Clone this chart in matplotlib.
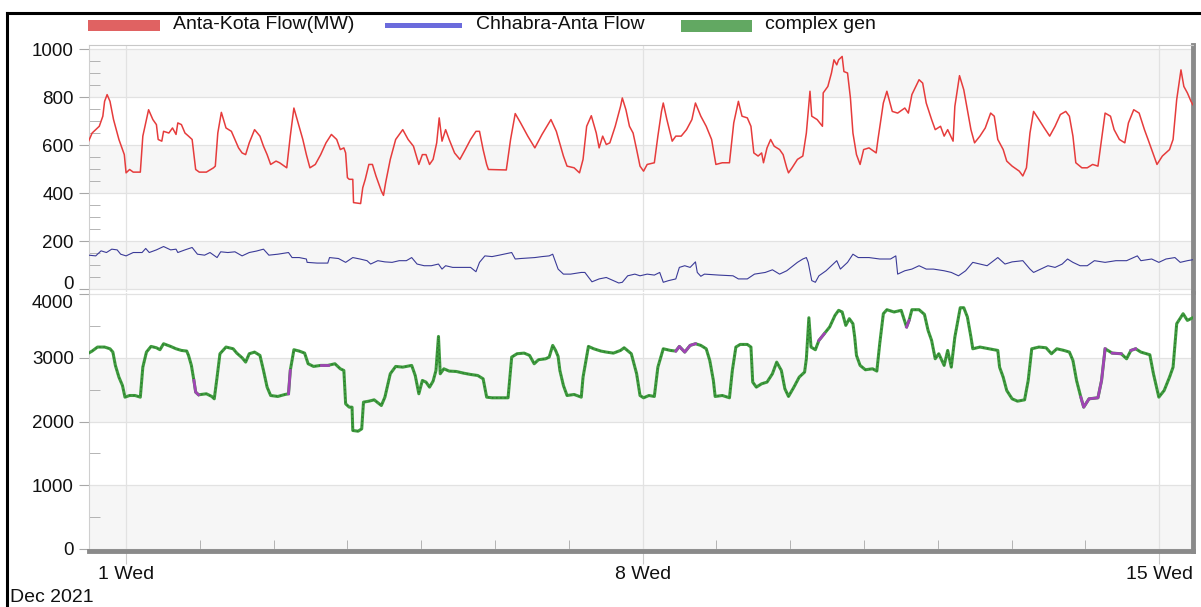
import numpy as np
import matplotlib
matplotlib.use('Agg')
import matplotlib.pyplot as plt
from matplotlib.lines import Line2D
from matplotlib.patches import Rectangle
from matplotlib.ticker import MultipleLocator, FixedLocator, FuncFormatter
from datetime import date

plt.rcParams['font.family'] = ['Liberation Sans', 'DejaVu Sans']

# x = day of month, Dec 2021 (fractional)
ak_day = [0.493, 0.541, 0.638, 0.686, 0.710, 0.744, 0.783, 0.831, 0.904, 0.977,
          1.001, 1.049, 1.098, 1.194, 1.228, 1.306, 1.364, 1.412, 1.436, 1.485,
          1.509, 1.581, 1.630, 1.678, 1.702, 1.751, 1.799, 1.847, 1.896, 1.944,
          1.993, 2.089, 2.186, 2.210, 2.244, 2.292, 2.355, 2.428, 2.476, 2.525,
          2.573, 2.621, 2.670, 2.742, 2.815, 2.863, 2.912, 2.960, 3.033, 3.081,
          3.178, 3.226, 3.275, 3.338, 3.396, 3.444, 3.492, 3.565, 3.638, 3.710,
          3.783, 3.855, 3.904, 3.952, 3.976, 4.000, 4.025, 4.073, 4.083, 4.179,
          4.208, 4.242, 4.291, 4.339, 4.387, 4.460, 4.489, 4.518, 4.581, 4.654,
          4.750, 4.823, 4.895, 4.968, 5.016, 5.065, 5.113, 5.161, 5.210, 5.244,
          5.282, 5.331, 5.379, 5.452, 5.524, 5.597, 5.669, 5.742, 5.790, 5.839,
          5.887, 5.911, 6.153, 6.211, 6.274, 6.347, 6.444, 6.540, 6.637, 6.758,
          6.831, 6.927, 6.976, 7.072, 7.145, 7.193, 7.242, 7.305, 7.372, 7.411,
          7.459, 7.508, 7.556, 7.629, 7.701, 7.725, 7.774, 7.822, 7.871, 7.919,
          7.965, 8.013, 8.062, 8.159, 8.207, 8.256, 8.280, 8.329, 8.401, 8.450,
          8.523, 8.595, 8.668, 8.716, 8.789, 8.862, 8.935, 8.993, 9.080, 9.177,
          9.235, 9.298, 9.347, 9.419, 9.468, 9.507, 9.565, 9.613, 9.638, 9.686,
          9.735, 9.783, 9.856, 9.904, 9.953, 9.977, 10.025, 10.098, 10.171, 10.219,
          10.268, 10.292, 10.365, 10.437, 10.447, 10.510, 10.559, 10.593, 10.631, 10.656,
          10.704, 10.728, 10.777, 10.816, 10.850, 10.898, 10.947, 10.995, 11.068, 11.165,
          11.189, 11.262, 11.310, 11.383, 11.456, 11.553, 11.601, 11.649, 11.746, 11.795,
          11.843, 11.916, 11.965, 12.037, 12.086, 12.134, 12.207, 12.231, 12.294, 12.352,
          12.401, 12.449, 12.498, 12.571, 12.643, 12.716, 12.765, 12.813, 12.886, 12.934,
          13.007, 13.104, 13.152, 13.201, 13.249, 13.298, 13.371, 13.443, 13.516, 13.589,
          13.661, 13.734, 13.783, 13.831, 13.870, 13.952, 14.025, 14.098, 14.170, 14.219,
          14.267, 14.340, 14.389, 14.461, 14.534, 14.583, 14.655, 14.728, 14.800, 14.849,
          14.922, 14.970, 15.043, 15.140, 15.188, 15.237, 15.295, 15.334, 15.382, 15.431,
          15.455]
ak_mw = [616, 650, 678, 720, 782, 810, 782, 706, 623, 560,
         484, 498, 487, 487, 637, 747, 706, 685, 623, 616,
         657, 650, 671, 644, 692, 685, 650, 637, 623, 498,
         487, 487, 505, 512, 650, 736, 671, 657, 623, 588,
         567, 560, 609, 664, 637, 595, 560, 519, 533, 526,
         505, 637, 754, 685, 623, 560, 505, 519, 560, 609,
         644, 623, 581, 588, 567, 464, 457, 457, 360, 356,
         422, 457, 519, 519, 471, 408, 390, 443, 540, 623,
         664, 623, 595, 519, 560, 560, 519, 540, 609, 713,
         616, 664, 623, 567, 540, 581, 623, 657, 657, 581,
         519, 498, 496, 623, 731, 692, 637, 588, 644, 706,
         657, 554, 512, 505, 484, 540, 678, 722, 650, 588,
         637, 602, 609, 678, 761, 796, 747, 678, 650, 581,
         512, 491, 519, 526, 637, 740, 775, 706, 616, 637,
         637, 664, 706, 775, 720, 678, 623, 519, 526, 526,
         692, 782, 720, 713, 678, 567, 554, 567, 526, 588,
         623, 595, 581, 560, 505, 484, 505, 540, 554, 650,
         824, 720, 706, 678, 817, 844, 900, 955, 934, 955,
         969, 906, 900, 796, 650, 560, 519, 581, 588, 567,
         623, 775, 824, 740, 733, 754, 733, 810, 872, 858,
         775, 706, 664, 678, 637, 664, 616, 761, 889, 830,
         747, 664, 609, 637, 671, 733, 720, 623, 581, 533,
         512, 491, 471, 505, 650, 740, 706, 671, 637, 678,
         727, 740, 720, 637, 526, 505, 505, 519, 512, 623,
         733, 720, 664, 623, 609, 692, 747, 733, 664, 623,
         560, 519, 554, 581, 623, 789, 913, 844, 817, 782,
         768]

ca_day = [0.493, 0.590, 0.662, 0.735, 0.807, 0.880, 0.928, 1.001, 1.098, 1.218,
          1.267, 1.315, 1.412, 1.509, 1.605, 1.678, 1.702, 1.799, 1.896, 1.968,
          2.065, 2.138, 2.234, 2.283, 2.380, 2.476, 2.573, 2.670, 2.767, 2.863,
          2.936, 3.057, 3.202, 3.250, 3.347, 3.444, 3.454, 3.589, 3.734, 3.758,
          3.879, 3.976, 4.073, 4.170, 4.266, 4.315, 4.412, 4.508, 4.605, 4.702,
          4.799, 4.871, 4.944, 5.040, 5.137, 5.234, 5.282, 5.331, 5.427, 5.573,
          5.669, 5.742, 5.790, 5.863, 5.960, 6.057, 6.226, 6.274, 6.347, 6.540,
          6.637, 6.734, 6.782, 6.855, 6.927, 7.024, 7.169, 7.218, 7.314, 7.411,
          7.508, 7.605, 7.677, 7.725, 7.798, 7.895, 7.965, 8.062, 8.159, 8.232,
          8.280, 8.353, 8.450, 8.498, 8.571, 8.644, 8.716, 8.741, 8.789, 8.838,
          9.032, 9.225, 9.298, 9.419, 9.516, 9.662, 9.759, 9.856, 9.953, 10.098,
          10.171, 10.219, 10.244, 10.292, 10.341, 10.389, 10.486, 10.583, 10.631, 10.680,
          10.777, 10.850, 10.922, 11.068, 11.213, 11.359, 11.431, 11.456, 11.553, 11.649,
          11.746, 11.843, 11.940, 12.086, 12.183, 12.280, 12.377, 12.474, 12.571, 12.668,
          12.813, 12.910, 13.007, 13.152, 13.249, 13.298, 13.395, 13.492, 13.589, 13.686,
          13.758, 13.831, 13.928, 14.025, 14.122, 14.267, 14.413, 14.558, 14.704, 14.752,
          14.898, 14.995, 15.092, 15.213, 15.285, 15.382, 15.455]
ca_mw = [141, 138, 159, 152, 166, 163, 145, 138, 152, 152,
         169, 152, 163, 177, 163, 166, 152, 163, 173, 145,
         141, 152, 131, 155, 152, 155, 138, 152, 158, 166,
         141, 145, 152, 131, 131, 125, 111, 108, 108, 131,
         127, 111, 131, 125, 118, 104, 118, 113, 111, 118,
         118, 131, 104, 97, 97, 104, 83, 97, 90, 90,
         90, 72, 111, 138, 135, 141, 152, 125, 127, 131,
         135, 138, 145, 83, 62, 62, 69, 69, 30, 42,
         48, 35, 25, 28, 55, 62, 55, 62, 58, 69,
         28, 35, 42, 90, 97, 90, 113, 69, 53, 62,
         58, 55, 42, 42, 62, 69, 80, 62, 76, 111,
         125, 131, 111, 35, 28, 55, 76, 104, 118, 83,
         111, 145, 131, 131, 125, 125, 138, 62, 76, 83,
         97, 83, 83, 76, 69, 55, 76, 111, 104, 97,
         131, 104, 113, 118, 83, 69, 83, 97, 90, 104,
         125, 111, 97, 97, 118, 111, 118, 118, 138, 118,
         125, 111, 125, 131, 111, 118, 122]

gen_day = [0.493, 0.541, 0.614, 0.710, 0.783, 0.822, 0.856, 0.904, 0.952, 0.986,
           1.049, 1.122, 1.194, 1.228, 1.277, 1.339, 1.412, 1.460, 1.509, 1.605,
           1.678, 1.751, 1.823, 1.847, 1.886, 1.920, 1.944, 1.983, 2.089, 2.162,
           2.196, 2.234, 2.273, 2.355, 2.452, 2.501, 2.573, 2.621, 2.670, 2.742,
           2.815, 2.863, 2.912, 2.960, 3.057, 3.154, 3.202, 3.226, 3.275, 3.347,
           3.420, 3.468, 3.541, 3.638, 3.734, 3.831, 3.904, 3.952, 3.976, 4.025,
           4.063, 4.073, 4.145, 4.194, 4.218, 4.291, 4.363, 4.460, 4.508, 4.581,
           4.654, 4.750, 4.871, 4.919, 4.968, 5.016, 5.065, 5.113, 5.161, 5.200,
           5.234, 5.258, 5.307, 5.379, 5.476, 5.573, 5.669, 5.766, 5.839, 5.887,
           5.960, 6.081, 6.177, 6.226, 6.298, 6.395, 6.468, 6.531, 6.589, 6.685,
           6.734, 6.782, 6.821, 6.855, 6.879, 6.927, 6.976, 7.072, 7.169, 7.193,
           7.266, 7.338, 7.435, 7.508, 7.605, 7.701, 7.750, 7.847, 7.919, 7.965,
           8.013, 8.086, 8.159, 8.207, 8.280, 8.377, 8.450, 8.498, 8.571, 8.644,
           8.716, 8.789, 8.862, 8.910, 8.959, 8.983, 9.080, 9.177, 9.216, 9.264,
           9.322, 9.419, 9.468, 9.492, 9.541, 9.613, 9.686, 9.759, 9.817, 9.880,
           9.928, 9.977, 10.050, 10.122, 10.195, 10.219, 10.253, 10.282, 10.341, 10.389,
           10.462, 10.534, 10.607, 10.656, 10.704, 10.753, 10.801, 10.850, 10.874, 10.898,
           10.947, 11.019, 11.116, 11.174, 11.213, 11.262, 11.310, 11.407, 11.504, 11.577,
           11.611, 11.649, 11.746, 11.819, 11.868, 11.916, 11.965, 12.013, 12.086, 12.134,
           12.183, 12.231, 12.304, 12.352, 12.401, 12.449, 12.474, 12.571, 12.692, 12.813,
           12.837, 12.886, 12.934, 13.007, 13.080, 13.176, 13.225, 13.273, 13.370, 13.467,
           13.540, 13.613, 13.710, 13.783, 13.831, 13.880, 13.938, 13.977, 14.049, 14.170,
           14.219, 14.267, 14.364, 14.485, 14.558, 14.617, 14.680, 14.752, 14.873, 14.922,
           14.995, 15.067, 15.140, 15.188, 15.237, 15.324, 15.382, 15.455]
gen_mw = [3073, 3105, 3168, 3168, 3141, 3089, 2880, 2696, 2565, 2382,
          2408, 2408, 2382, 2853, 3089, 3178, 3157, 3126, 3220, 3178,
          3141, 3115, 3105, 3037, 2880, 2644, 2461, 2419, 2435, 2393,
          2356, 2696, 3063, 3168, 3141, 3073, 3000, 2932, 3063, 3089,
          3037, 2801, 2539, 2408, 2393, 2424, 2435, 2801, 3126, 3105,
          3073, 2906, 2864, 2880, 2880, 2906, 2827, 2801, 2277, 2225,
          2225, 1859, 1848, 1885, 2304, 2319, 2340, 2251, 2382, 2749,
          2864, 2853, 2880, 2722, 2435, 2644, 2618, 2539, 2633, 2801,
          3335, 2749, 2827, 2791, 2785, 2759, 2738, 2722, 2670, 2382,
          2372, 2372, 2372, 3010, 3063, 3073, 3037, 2906, 2969, 2984,
          3010, 3194, 3115, 3021, 2801, 2565, 2408, 2424, 2382, 2696,
          3178, 3141, 3105, 3089, 3073, 3115, 3157, 3063, 2749, 2408,
          2372, 2408, 2393, 2853, 3141, 3115, 3105, 3178, 3089, 3194,
          3220, 3194, 3141, 2958, 2644, 2393, 2408, 2372, 2801, 3168,
          3209, 3209, 3168, 2618, 2539, 2592, 2618, 2749, 2932, 2801,
          2513, 2393, 2539, 2696, 2775, 2984, 3628, 3168, 3126, 3272,
          3377, 3482, 3665, 3744, 3718, 3508, 3613, 3534, 3325, 3037,
          2880, 2812, 2827, 2791, 3220, 3691, 3754, 3718, 3744, 3482,
          3586, 3754, 3754, 3681, 3430, 3272, 2984, 3063, 2880, 3115,
          2853, 3325, 3785, 3785, 3639, 3325, 3141, 3168, 3141, 3115,
          2853, 2696, 2487, 2356, 2319, 2340, 2644, 3141, 3168, 3157,
          3063, 3141, 3115, 3089, 2958, 2644, 2382, 2225, 2356, 2372,
          2644, 3141, 3073, 3063, 2984, 3115, 3141, 3089, 3047, 2749,
          2382, 2487, 2696, 2853, 3534, 3691, 3586, 3628]

# stretches where the purple trace shows on top of complex gen
purple_spans = [(1.90, 1.99), (3.19, 3.24), (3.60, 3.75), (8.43, 8.75),
                (10.38, 10.47), (11.55, 11.63), (13.90, 14.27), (14.33, 14.50),
                (14.60, 14.70)]

legend_names = ['Anta-Kota Flow(MW)', 'Chhabra-Anta Flow', 'complex gen']
legend_colors = ['#e06262', '#6b6bdc', '#62a862']

W, H = 1201, 607
fig = plt.figure(figsize=(W / 100, H / 100), dpi=100)


def px_axes(l, t, r, b):
    return fig.add_axes([l / W, 1 - b / H, (r - l) / W, (b - t) / H])


ax1 = px_axes(89, 45, 1193, 292)
ax2 = px_axes(89, 293, 1193, 551)

band = '#f6f6f6'
grid_c = '#e2e2e2'
tick_c = '#a8a8a8'

for lo, hi in [(800, 1000), (400, 600), (0, 200)]:
    ax1.axhspan(lo, hi, color=band, lw=0, zorder=0)
for lo, hi in [(2000, 3000), (0, 1000)]:
    ax2.axhspan(lo, hi, color=band, lw=0, zorder=0)

ax1.plot(ak_day, ak_mw, color='#e63c3c', lw=1.1, zorder=3)
ax1.plot(ca_day, ca_mw, color='#3b3b98', lw=0.8, zorder=3)

gd = np.array(gen_day)
gm = np.array(gen_mw)
ax2.plot(gd, gm, color='#3f9c3f', lw=2.2, zorder=3)
ax2.plot(gd, gm, color='#2c7a2c', lw=1.0, ls=(0, (1, 2)), zorder=3)
for s, e in purple_spans:
    m = (gd >= s) & (gd <= e)
    ax2.plot(gd[m], gm[m], color='#a044b4', lw=2.0, zorder=4)

ax1.set_ylim(-12.5, 1016.7)
ax2.set_ylim(-31.4, 4016)
ax1.yaxis.set_major_locator(FixedLocator([0, 200, 400, 600, 800, 1000]))
ax1.yaxis.set_minor_locator(MultipleLocator(50))
ax2.yaxis.set_major_locator(FixedLocator([0, 1000, 2000, 3000, 4000]))
ax2.yaxis.set_minor_locator(MultipleLocator(500))

# the two labels where the panels meet are nudged apart, as in the original
ax1.yaxis.set_major_formatter(FuncFormatter(lambda v, p: '' if v == 0 else '%d' % v))
ax2.yaxis.set_major_formatter(FuncFormatter(lambda v, p: '' if v == 4000 else '%d' % v))
ax1.annotate('0', xy=(0, 0), xycoords=('axes fraction', 'data'), xytext=(-11, 3),
             textcoords='offset points', ha='right', va='center', fontsize=13.5,
             color='#111111', annotation_clip=False)
ax2.annotate('4000', xy=(0, 4000), xycoords=('axes fraction', 'data'), xytext=(-11, -6.5),
             textcoords='offset points', ha='right', va='center', fontsize=13.5,
             color='#111111', annotation_clip=False)

x0, x1 = 0.4986, 15.458
major_days = [1, 8, 15]
labels = ['%d %s' % (d, date(2021, 12, d).strftime('%a')) for d in major_days]
for ax in (ax1, ax2):
    ax.set_xlim(x0, x1)
    ax.xaxis.set_major_locator(FixedLocator(major_days))
    ax.xaxis.set_minor_locator(MultipleLocator(1))
    ax.grid(True, which='major', color=grid_c, lw=0.9, zorder=1)
    ax.set_axisbelow(True)
    ax.tick_params(axis='y', which='major', direction='out', length=7,
                   color=tick_c, labelsize=13.5, pad=4, labelcolor='#111111')
    ax.tick_params(axis='y', which='minor', direction='in', length=8,
                   color=tick_c)
    ax.spines['left'].set_color('#cfcfcf')
    ax.spines['right'].set_color('#8a8a8a')
    ax.spines['right'].set_linewidth(3.5)
    ax.set_facecolor('white')

ax1.spines['top'].set_color('#c8c8c8')
ax1.spines['bottom'].set_visible(False)
ax1.tick_params(axis='x', which='both', length=0, labelbottom=False)
ax2.spines['top'].set_visible(False)
ax2.spines['bottom'].set_color('#8a8a8a')
ax2.spines['bottom'].set_linewidth(3.5)
ax2.set_xticklabels(labels)
ax2.tick_params(axis='x', which='major', direction='out', length=9,
                color='#cccccc', labelsize=14, pad=2, labelcolor='#111111')
ax2.tick_params(axis='x', which='minor', direction='in', length=8, color=tick_c)

# outer frame
ytop = 1 - 13 / H
fig.add_artist(Line2D([7 / W, 1], [ytop, ytop], color='black', lw=2.2))
fig.add_artist(Line2D([7 / W, 7 / W], [0, ytop], color='black', lw=2.2))

# legend drawn on the figure
sw_x = [(88, 160), (385, 462), (681, 752)]
sw_h = [11, 5, 12]
txt_x = [173, 476, 765]
yc = 25.5
for name, c, (a, b), h, tx in zip(legend_names, legend_colors, sw_x, sw_h, txt_x):
    fig.add_artist(Rectangle((a / W, 1 - (yc + h / 2) / H), (b - a) / W, h / H,
                             transform=fig.transFigure, color=c, lw=0))
    fig.text(tx / W, 1 - 24.5 / H, name, fontsize=14, va='center', color='#111111')

fig.text(10 / W, 1 - 598 / H, 'Dec 2021', fontsize=14, va='center', color='#111111')

fig.savefig('out.png', dpi=100)
